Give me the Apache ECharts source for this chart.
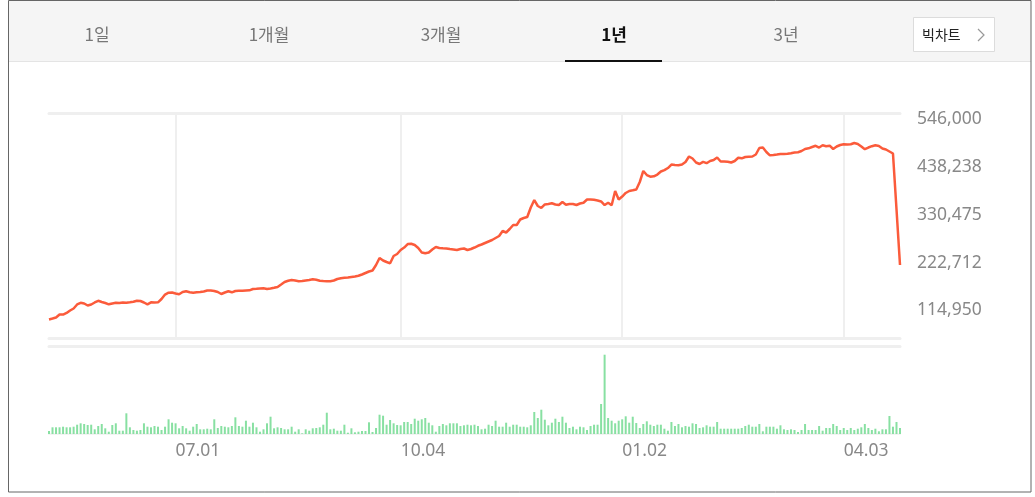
<!DOCTYPE html>
<html><head><meta charset="utf-8">
<script src="https://cdn.jsdelivr.net/npm/echarts@6/dist/echarts.min.js"></script>
<style>html,body{margin:0;padding:0;background:#fff;}#c{width:1035px;height:497px;}</style>
</head><body><div id="c"></div>
<script>
// ---- data ----
const tabLabels = ['1일', '1개월', '3개월', '1년', '3년'];
const activeTab = '1년';
const bigChartLabel = '빅차트';
const tickLabels = ['07.01', '10.04', '01.02', '04.03'];
const priceTicks = [114950, 222712, 330475, 438238, 546000];
const startDate = '2024-05-08';
const endDate = '2025-04-25';
const holidays = ['2024-05-15','2024-06-06','2024-08-15','2024-09-16','2024-09-17','2024-09-18',
  '2024-10-03','2025-01-01','2025-01-29','2025-01-30'];

const prices = [
  94200,96400,98700,105500,105300,108900,114500,119000,128100,131900,
  130300,125800,128100,132600,136400,133700,131400,128500,130300,132100,
  131400,132600,131900,133000,134200,136600,136000,132600,128500,133000,
  132600,133000,140500,150600,154700,155200,152900,151100,156300,157900,
  155600,154700,155600,156300,157400,159700,159700,158600,156300,151800,
  155200,157900,155600,158600,159200,159200,159700,160100,163100,163700,
  164400,164700,163100,164200,165800,167600,173200,178900,181600,183400,
  182300,180700,181100,182300,183400,185000,183900,181600,181100,180700,
  180500,182300,185700,187500,188400,189100,190200,191300,192900,195800,
  199200,202600,204900,217300,233100,227500,224100,221100,237600,242100,
  251200,256800,264700,265200,262500,255700,245500,243700,245500,252300,
  258000,255700,255000,254600,253400,252300,251200,253400,254600,251200,
  253400,256800,260700,263600,267000,270400,273800,278300,282800,294100,
  290700,298600,307700,307700,320100,323500,325700,347200,364100,350600,
  346100,354000,355100,356700,354000,352800,359600,353500,355100,355100,
  352800,356200,358000,365300,365300,364600,363000,360800,352800,357800,
  352200,384500,365300,372000,380000,384500,386100,387900,404800,429700,
  420600,416800,417700,421700,428500,431500,436400,444300,443200,442500,
  444300,450000,462400,457900,448900,445500,450400,447300,452200,454500,
  460200,451100,451100,450700,448900,452200,459500,458300,461300,462000,
  462400,466900,481600,482700,472600,465100,465800,466900,468100,468100,
  468500,469900,471500,472100,474800,479400,480900,483900,486600,482700,
  487700,485700,486800,479400,485000,488400,490000,489600,490000,492900,
  490700,485000,478900,482700,485700,487900,486100,480500,478200,473700,
  469200,343800,217300
];

// volume, thousand shares
const volumes = [
  30,67,67,67,73,67,67,73,93,107,
  100,90,93,47,80,100,57,23,90,107,
  33,33,207,67,40,33,40,107,73,67,
  80,73,40,73,147,113,107,57,80,57,
  33,73,100,47,47,53,47,147,60,80,
  73,67,80,167,80,73,133,73,113,67,
  23,47,107,173,57,67,60,47,47,73,
  23,47,7,47,33,57,60,67,93,213,
  47,53,33,33,93,13,57,17,23,30,
  30,117,20,60,193,183,93,140,107,90,
  87,120,120,100,153,133,147,160,113,87,
  23,80,100,87,107,107,107,80,87,93,
  87,93,80,47,53,93,80,133,73,73,
  113,73,93,93,73,73,67,87,220,160,
  243,143,87,113,153,120,173,113,60,73,
  47,73,67,40,80,93,93,300,793,160,
  133,107,133,147,177,113,173,110,60,100,
  127,93,80,93,93,53,33,120,80,100,
  67,80,73,107,100,60,67,87,73,73,
  120,53,53,53,53,53,53,60,80,93,
  73,73,100,27,73,73,73,53,87,47,
  40,47,40,20,40,100,40,40,40,80,
  33,60,60,100,80,40,60,40,60,40,
  53,67,100,60,40,53,27,47,47,180,
  73,120,60
];

// ---- trading-day categories ----
function tradingDays(s, e, hol) {
  const out = [];
  const d = new Date(s + 'T00:00:00Z');
  const end = new Date(e + 'T00:00:00Z');
  while (d <= end) {
    const wd = d.getUTCDay();
    const iso = d.toISOString().slice(0, 10);
    if (wd !== 0 && wd !== 6 && !hol.includes(iso)) out.push(iso.replace(/-/g, '.'));
    d.setUTCDate(d.getUTCDate() + 1);
  }
  return out;
}
const categories = tradingDays(startDate, endDate, holidays);
const isTick = (idx, val) => tickLabels.includes(String(val).slice(5));

const gridLine = '#efefef';
const labelColor = '#888';
const font = 'Noto Sans';

const tabX = [97, 269, 441, 614, 786];
const graphic = [
  { type: 'rect', shape: { x: 9, y: 1, width: 1022, height: 60 }, style: { fill: '#f5f5f5' }, z: 0 },
  { type: 'line', shape: { x1: 9, y1: 61.5, x2: 1031, y2: 61.5 }, style: { stroke: '#e4e4e4', lineWidth: 1 } },
  { type: 'rect', shape: { x: 565, y: 60, width: 97, height: 2 }, style: { fill: '#111' } },
  { type: 'rect', shape: { x: 913.5, y: 17.5, width: 81, height: 34 }, style: { fill: '#fff', stroke: '#dcdcdc', lineWidth: 1 } },
  { type: 'text', x: 922, y: 35, style: { text: bigChartLabel, fill: '#222', font: '14px "Noto Sans CJK KR"',
      align: 'left', textAlign: 'left', verticalAlign: 'middle', textVerticalAlign: 'middle' } },
  { type: 'polyline', shape: { points: [[978, 29], [984, 35], [978, 41]] }, style: { stroke: '#999', lineWidth: 1.2, fill: null } },
  { type: 'rect', shape: { x: 8.5, y: 0.5, width: 1022.5, height: 491.5 }, style: { fill: null, stroke: '#666', lineWidth: 1 }, z: 100 }
];
tabLabels.forEach((t, i) => {
  const act = t === activeTab;
  graphic.push({ type: 'text', x: tabX[i], y: 35,
    style: { text: t, fill: act ? '#111' : '#777',
      font: (act ? 'bold ' : '') + '17px "Noto Sans CJK KR"',
      align: 'center', textAlign: 'center', verticalAlign: 'middle', textVerticalAlign: 'middle' } });
});

const chart = echarts.init(document.getElementById('c'));
chart.setOption({
  animation: false,
  textStyle: { fontFamily: font },
  grid: [
    { left: 49, right: 135, top: 113, height: 225 },
    { left: 49, right: 135, top: 346, height: 88 }
  ],
  xAxis: [
    { gridIndex: 0, type: 'category', data: categories, boundaryGap: false,
      axisLine: { onZero: false, lineStyle: { color: gridLine, width: 3 } },
      axisTick: { show: false }, axisLabel: { show: false },
      splitLine: { show: true, interval: isTick, lineStyle: { color: gridLine, width: 2 } } },
    { gridIndex: 0, type: 'category', data: categories, boundaryGap: false, position: 'top',
      axisLine: { onZero: false, lineStyle: { color: gridLine, width: 3 } },
      axisTick: { show: false }, axisLabel: { show: false }, splitLine: { show: false } },
    { gridIndex: 1, type: 'category', data: categories, boundaryGap: false,
      axisLine: { onZero: false, lineStyle: { color: '#f3f3f3', width: 2 } },
      axisTick: { show: false },
      axisLabel: { interval: isTick, formatter: v => v.slice(5), align: 'left',
        color: labelColor, fontSize: 17.5, fontFamily: font, margin: 8 },
      splitLine: { show: false } },
    { gridIndex: 1, type: 'category', data: categories, boundaryGap: false, position: 'top',
      axisLine: { onZero: false, lineStyle: { color: gridLine, width: 3 } },
      axisTick: { show: false }, axisLabel: { show: false }, splitLine: { show: false } }
  ],
  yAxis: [
    { gridIndex: 0, type: 'value', position: 'right', min: 52370, max: 560690,
      axisLine: { show: false }, axisTick: { show: false }, splitLine: { show: false },
      axisLabel: { customValues: priceTicks, formatter: v => Number(v).toLocaleString('en-US'),
        color: labelColor, fontSize: 17.5, fontFamily: font, margin: 17, align: 'left' } },
    { gridIndex: 1, type: 'value', min: 0, max: 880, show: false }
  ],
  series: [
    { type: 'line', xAxisIndex: 0, yAxisIndex: 0, data: prices, showSymbol: false,
      lineStyle: { color: '#fb5b3b', width: 2.5 }, itemStyle: { color: '#fb5b3b' } },
    { type: 'bar', xAxisIndex: 2, yAxisIndex: 1, data: volumes, barWidth: 2,
      itemStyle: { color: '#88e0a2' } }
  ],
  graphic: graphic
});
</script>
</body></html>
